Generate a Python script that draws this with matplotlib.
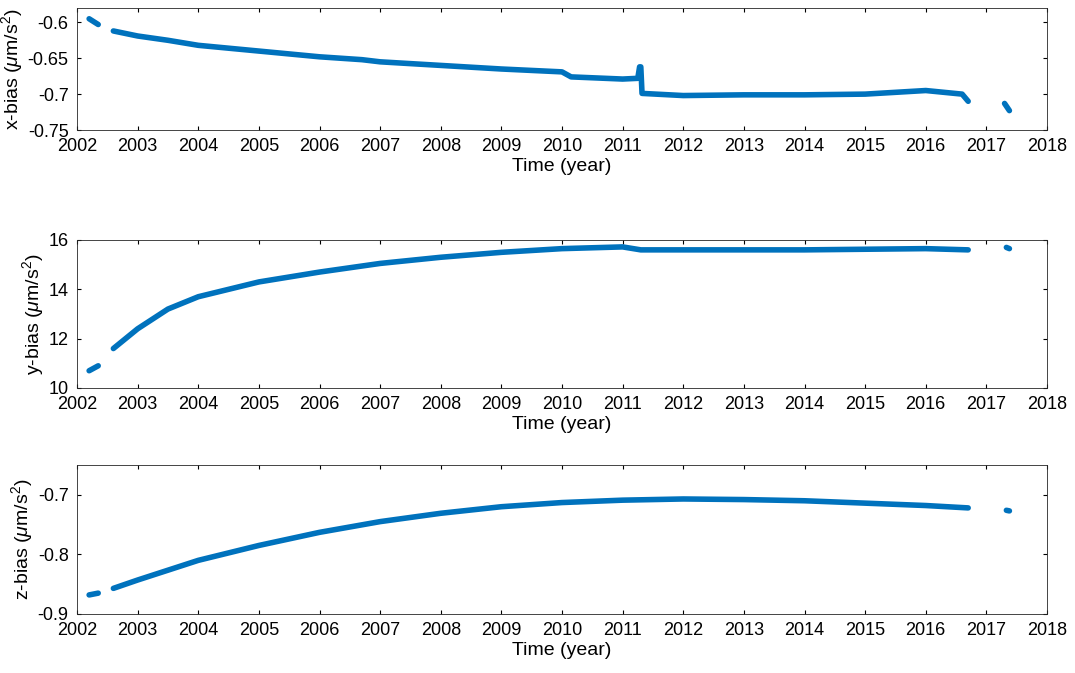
import numpy as np
import matplotlib
matplotlib.use("Agg")
import matplotlib.pyplot as plt

plt.rcParams['font.family'] = ['Liberation Sans', 'DejaVu Sans']
plt.rcParams['mathtext.fontset'] = 'custom'
plt.rcParams['mathtext.rm'] = 'Liberation Sans'
plt.rcParams['mathtext.it'] = 'Liberation Sans:italic'

nan = np.nan
# x-bias (NaN = gap in record)
tx = [2002.2, 2002.35, nan, 2002.6, 2003.0, 2003.5, 2004.0, 2005.0, 2006.0, 2006.7, 2007.0,
      2008.0, 2009.0, 2010.0, 2010.15, 2011.0, 2011.25, 2011.28, 2011.3, 2011.32, 2012.0, 2013.0,
      2014.0, 2015.0, 2016.0, 2016.6, 2016.7, nan, 2017.3, 2017.38]
vx = [-0.595, -0.603, nan, -0.612, -0.619, -0.625, -0.632, -0.640, -0.648, -0.652, -0.655,
      -0.660, -0.665, -0.669, -0.676, -0.679, -0.678, -0.662, -0.662, -0.699, -0.702, -0.701,
      -0.701, -0.700, -0.695, -0.700, -0.710, nan, -0.713, -0.723]
# y-bias
ty = [2002.2, 2002.35, nan, 2002.6, 2003.0, 2003.5, 2004.0, 2005.0, 2006.0, 2007.0, 2008.0,
      2009.0, 2010.0, 2011.0, 2011.3, 2012.0, 2014.0, 2016.0, 2016.7, nan, 2017.33, 2017.38]
vy = [10.7, 10.9, nan, 11.6, 12.4, 13.2, 13.7, 14.3, 14.7, 15.05, 15.3,
      15.5, 15.65, 15.72, 15.6, 15.6, 15.6, 15.65, 15.6, nan, 15.7, 15.65]
# z-bias
tz = [2002.2, 2002.35, nan, 2002.6, 2003.0, 2004.0, 2005.0, 2006.0, 2007.0, 2008.0, 2009.0,
      2010.0, 2011.0, 2012.0, 2013.0, 2014.0, 2015.0, 2016.0, 2016.7, nan, 2017.33, 2017.38]
vz = [-0.868, -0.865, nan, -0.857, -0.843, -0.810, -0.785, -0.763, -0.745, -0.731, -0.720,
      -0.713, -0.709, -0.707, -0.708, -0.710, -0.714, -0.718, -0.722, nan, -0.726, -0.727]

labels = [r'x-bias ($\mu$m/s$^2$)', r'y-bias ($\mu$m/s$^2$)', r'z-bias ($\mu$m/s$^2$)']
ylims = [(-0.75, -0.58), (10, 16), (-0.9, -0.65)]
yticks = [[-0.75, -0.7, -0.65, -0.6], [10, 12, 14, 16], [-0.9, -0.8, -0.7]]
ytl = [['-0.75', '-0.7', '-0.65', '-0.6'], ['10', '12', '14', '16'], ['-0.9', '-0.8', '-0.7']]
color = '#0072BD'

fig = plt.figure(figsize=(10.75, 6.73), dpi=100)
bottoms = [1 - 130/673, 1 - 388/673, 1 - 614/673]
heights = [122/673, 148/673, 149/673]
for i, (t, v) in enumerate([(tx, vx), (ty, vy), (tz, vz)]):
    ax = fig.add_axes([77/1075, bottoms[i], 970/1075, heights[i]])
    ax.plot(t, v, color=color, lw=4, solid_capstyle='round')
    ax.set_xlim(2002, 2018)
    ax.set_xticks(range(2002, 2019))
    ax.set_ylim(*ylims[i])
    ax.set_yticks(yticks[i])
    ax.set_yticklabels(ytl[i])
    ax.set_xlabel('Time (year)', fontsize=14, labelpad=2)
    ax.set_ylabel(labels[i], fontsize=14, labelpad=2)
    ax.tick_params(labelsize=13, direction='in', length=3, top=True, right=True, pad=6)
    for s in ax.spines.values():
        s.set_color('#262626')
        s.set_linewidth(0.6)

fig.savefig('out.png', dpi=100)
